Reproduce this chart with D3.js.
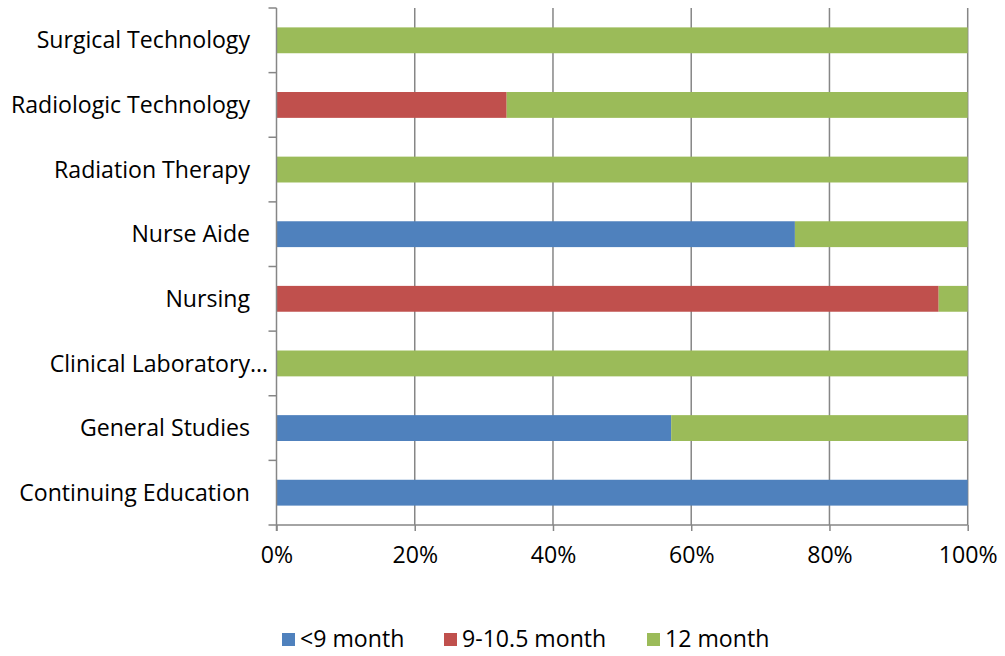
<!DOCTYPE html>
<html><head><meta charset="utf-8">
<script src="https://cdn.jsdelivr.net/npm/d3@7"></script>
<style>body{margin:0;background:#fff}svg{display:block}text{font-family:"Open Sans",sans-serif;fill:#000}</style>
</head><body><svg id="c" width="1005" height="656"></svg>
<script>
const categories = ["Surgical Technology","Radiologic Technology","Radiation Therapy","Nurse Aide","Nursing","Clinical Laboratory\u2026","General Studies","Continuing Education"];
const seriesNames = ["<9 month","9-10.5 month","12 month"];
const lt9 = [0, 0, 0, 75, 0, 0, 57.1, 100];
const m9to105 = [0, 33.3, 0, 0, 95.8, 0, 0, 0];
const m12 = [100, 66.7, 100, 25, 4.2, 100, 42.9, 0];
const ticks = [0,20,40,60,80,100];
const colors = ["#4f81bd","#c0504d","#9bbb59"];

const svg = d3.select("#c");
// fit font size so that the longest label matches the reference width
const probe = svg.append("text").attr("font-size",20).text("Continuing Education");
const w20 = probe.node().getComputedTextLength();
probe.remove();
const FS = Math.max(16, Math.min(24, 20*231/w20));

const L=276.5, R=967.7, T=8, B=525;
const x = d3.scaleLinear().domain([0,100]).range([L,R]);
const y = d3.scaleBand().domain(categories).range([T,B]).paddingInner(0.6).paddingOuter(0.3);
const yb = d3.scaleBand().domain(categories).range([T,B]);

svg.append("g").selectAll("line").data(ticks.slice(1)).join("line")
  .attr("x1",d=>x(d)).attr("x2",d=>x(d)).attr("y1",T).attr("y2",B)
  .attr("stroke","#868686").attr("stroke-width",1.5);

const data = categories.map((c,i)=>({c, v:[lt9[i],m9to105[i],m12[i]]}));
const g = svg.append("g");
data.forEach(d=>{
  let acc=0;
  d.v.forEach((v,k)=>{
    if(v>0){
      g.append("rect").attr("x",x(acc)).attr("width",x(acc+v)-x(acc))
        .attr("y",y(d.c)).attr("height",y.bandwidth()).attr("fill",colors[k]);
    }
    acc+=v;
  });
});

const xa = svg.append("g").attr("transform",`translate(0,${B})`)
  .call(d3.axisBottom(x).tickValues(ticks).tickFormat(d=>d+"%").tickSize(6).tickPadding(16));
xa.select(".domain").attr("stroke","#868686").attr("stroke-width",1.5).attr("d",`M${L},0H${R}`);
xa.selectAll(".tick line").attr("stroke","#868686").attr("stroke-width",1.5);
xa.selectAll(".tick text").attr("font-size",FS).attr("font-family","Open Sans").attr("fill","#000");

svg.append("line").attr("x1",L).attr("x2",L).attr("y1",T).attr("y2",B+6).attr("stroke","#868686").attr("stroke-width",1.5);
const yt = [...categories.map(c=>yb(c)), B];
svg.append("g").selectAll("line").data(yt).join("line")
  .attr("x1",L-8).attr("x2",L).attr("y1",d=>d).attr("y2",d=>d).attr("stroke","#868686").attr("stroke-width",1.5);
svg.append("g").selectAll("text").data(categories).join("text")
  .attr("x",(d,i)=> i===5 ? 268 : 250).attr("y",d=>yb(d)+yb.bandwidth()/2).attr("dy","0.35em")
  .attr("text-anchor","end").attr("font-size",FS).text(d=>d);

const lx=[282,444,647];
const lg = svg.append("g");
seriesNames.forEach((s,i)=>{
  lg.append("rect").attr("x",lx[i]).attr("y",633).attr("width",13).attr("height",13).attr("fill",colors[i]);
  lg.append("text").attr("x",lx[i]+18).attr("y",647).attr("font-size",FS).text(s);
});
</script></body></html>
